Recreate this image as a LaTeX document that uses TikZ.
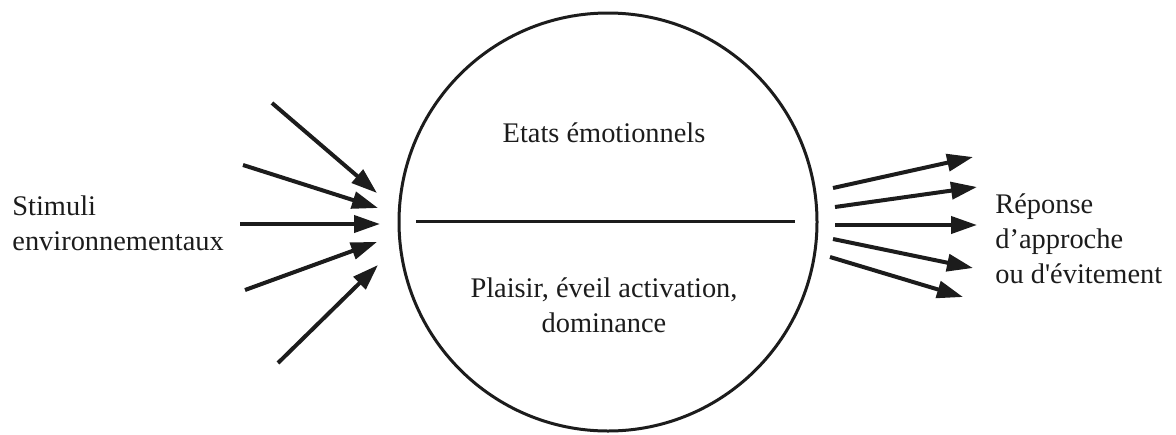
\documentclass[tikz,border=0pt]{standalone}
\usepackage{fontspec}
\setmainfont{Liberation Serif}[Ligatures=TeXOff]
\usepackage{tikz}
\usetikzlibrary{arrows.meta}
\usetikzlibrary{positioning}
\usepackage{color}
\definecolor{ink}{RGB}{28, 28, 28}

\begin{document}
\begin{tikzpicture}[x=0.5pt, y=-0.5pt,
        txt/.style={font=\fontsize{14.2}{17.5}\selectfont, text=ink, inner sep=0pt},
        stim/.style={draw=ink, line width=2pt, -{Triangle[length=13pt, width=8.5pt]}}]
            \useasboundingbox                                             (0, 0) rectangle (1176, 434);
            \node[circle, draw=ink, line width=1.5pt, minimum size=209pt, inner sep=0pt] (emo) at (608, 222) {};
            \coordinate (divL) at (416, 221);
            \coordinate (divR) at (795, 221);
            \draw[ink, line width=1.5pt]                                  (divL) -- (divR);
            \node[txt, anchor=base]                          (etats) at (604, 142) {Etats émotionnels};
            \node[txt, anchor=base, align=center]            (pad)   at (604, 332) {Plaisir, éveil activation,\\dominance};
            \node[txt, anchor=base west, align=left]         (stim)  at (12, 250)  {Stimuli\\environnementaux};
            \node[txt, anchor=base west, align=left]         (rep)   at (995, 283) {Réponse\\d’approche\\ou d'évitement};
            % incoming stimuli
            \coordinate (i1) at (272, 103);  \coordinate (j1) at (377, 193);
            \coordinate (i2) at (243, 165);  \coordinate (j2) at (378, 208);
            \coordinate (i3) at (240, 224);  \coordinate (j3) at (380, 224);
            \coordinate (i4) at (245, 290);  \coordinate (j4) at (377, 242);
            \coordinate (i5) at (278, 363);  \coordinate (j5) at (378, 265);
            \draw[stim] (i1) -- (j1);
            \draw[stim] (i2) -- (j2);
            \draw[stim] (i3) -- (j3);
            \draw[stim] (i4) -- (j4);
            \draw[stim] (i5) -- (j5);
            % outgoing responses
            \coordinate (o1) at (833, 188);  \coordinate (p1) at (973, 157);
            \coordinate (o2) at (835, 207);  \coordinate (p2) at (977, 187);
            \coordinate (o3) at (835, 225);  \coordinate (p3) at (977, 225);
            \coordinate (o4) at (833, 239);  \coordinate (p4) at (973, 268);
            \coordinate (o5) at (830, 257);  \coordinate (p5) at (963, 297);
            \draw[stim] (o1) -- (p1);
            \draw[stim] (o2) -- (p2);
            \draw[stim] (o3) -- (p3);
            \draw[stim] (o4) -- (p4);
            \draw[stim] (o5) -- (p5);
        \end{tikzpicture}
\end{document}
